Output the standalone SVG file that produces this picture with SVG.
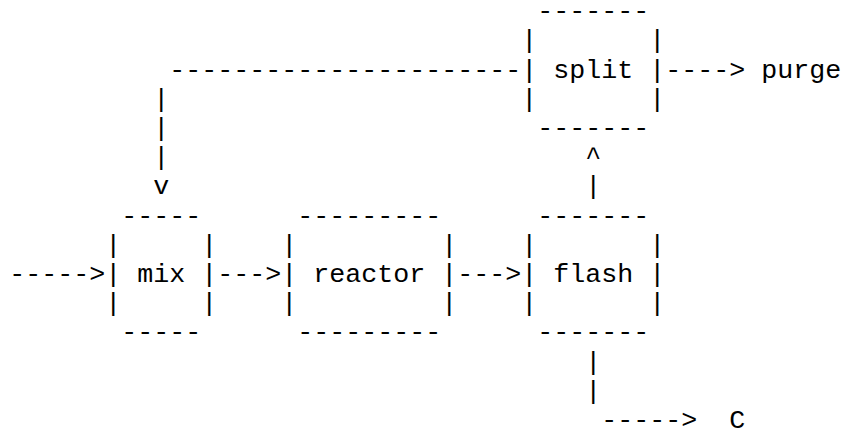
<svg xmlns="http://www.w3.org/2000/svg" width="843" height="430" viewBox="0 0 843 430" xml:space="preserve">
  <style>
    .t { font-family: "Liberation Mono", "Courier New", monospace; font-size: 26.667px; fill: #000; white-space: pre; }
  </style>
  <rect width="843" height="430" fill="#fff"/>

  <!-- monospace grid: column c at x = 9.3 + 16c, row r baseline at y = 19.2 + 29.2r -->

  <g id="split">
    <text class="t" x="537.3" y="19.2">-------</text>
    <text class="t" x="521.3" y="48.4">|       |</text>
    <text class="t" x="521.3" y="77.6">| split |</text>
    <text class="t" x="521.3" y="106.8">|       |</text>
    <text class="t" x="537.3" y="136.0">-------</text>
  </g>

  <g id="mix">
    <text class="t" x="121.3" y="223.6">-----</text>
    <text class="t" x="105.3" y="252.8">|     |</text>
    <text class="t" x="105.3" y="282.0">| mix |</text>
    <text class="t" x="105.3" y="311.2">|     |</text>
    <text class="t" x="121.3" y="340.4">-----</text>
  </g>

  <g id="reactor">
    <text class="t" x="297.3" y="223.6">---------</text>
    <text class="t" x="281.3" y="252.8">|         |</text>
    <text class="t" x="281.3" y="282.0">| reactor |</text>
    <text class="t" x="281.3" y="311.2">|         |</text>
    <text class="t" x="297.3" y="340.4">---------</text>
  </g>

  <g id="flash">
    <text class="t" x="537.3" y="223.6">-------</text>
    <text class="t" x="521.3" y="252.8">|       |</text>
    <text class="t" x="521.3" y="282.0">| flash |</text>
    <text class="t" x="521.3" y="311.2">|       |</text>
    <text class="t" x="537.3" y="340.4">-------</text>
  </g>

  <g id="connectors">
    <!-- feed into mix -->
    <text class="t" x="9.3" y="282.0">-----&gt;</text>
    <!-- mix to reactor -->
    <text class="t" x="217.3" y="282.0">---&gt;</text>
    <!-- reactor to flash -->
    <text class="t" x="457.3" y="282.0">---&gt;</text>
    <!-- flash vapour up to split -->
    <text class="t" x="585.3" y="165.2">^</text>
    <text class="t" x="585.3" y="194.4">|</text>
    <!-- split to purge -->
    <text class="t" x="665.3" y="77.6">----&gt;</text>
    <!-- recycle from split back to mix -->
    <text class="t" x="169.3" y="77.6">----------------------</text>
    <text class="t" x="153.3" y="106.8">|</text>
    <text class="t" x="153.3" y="136.0">|</text>
    <text class="t" x="153.3" y="165.2">|</text>
    <text class="t" x="153.3" y="194.4">v</text>
    <!-- flash liquid out to C -->
    <text class="t" x="585.3" y="369.6">|</text>
    <text class="t" x="585.3" y="398.8">|</text>
    <text class="t" x="601.3" y="428.0">-----&gt;</text>
  </g>

  <g id="labels">
    <text class="t" x="761.3" y="77.6">purge</text>
    <text class="t" x="729.3" y="428.0">C</text>
  </g>
</svg>
